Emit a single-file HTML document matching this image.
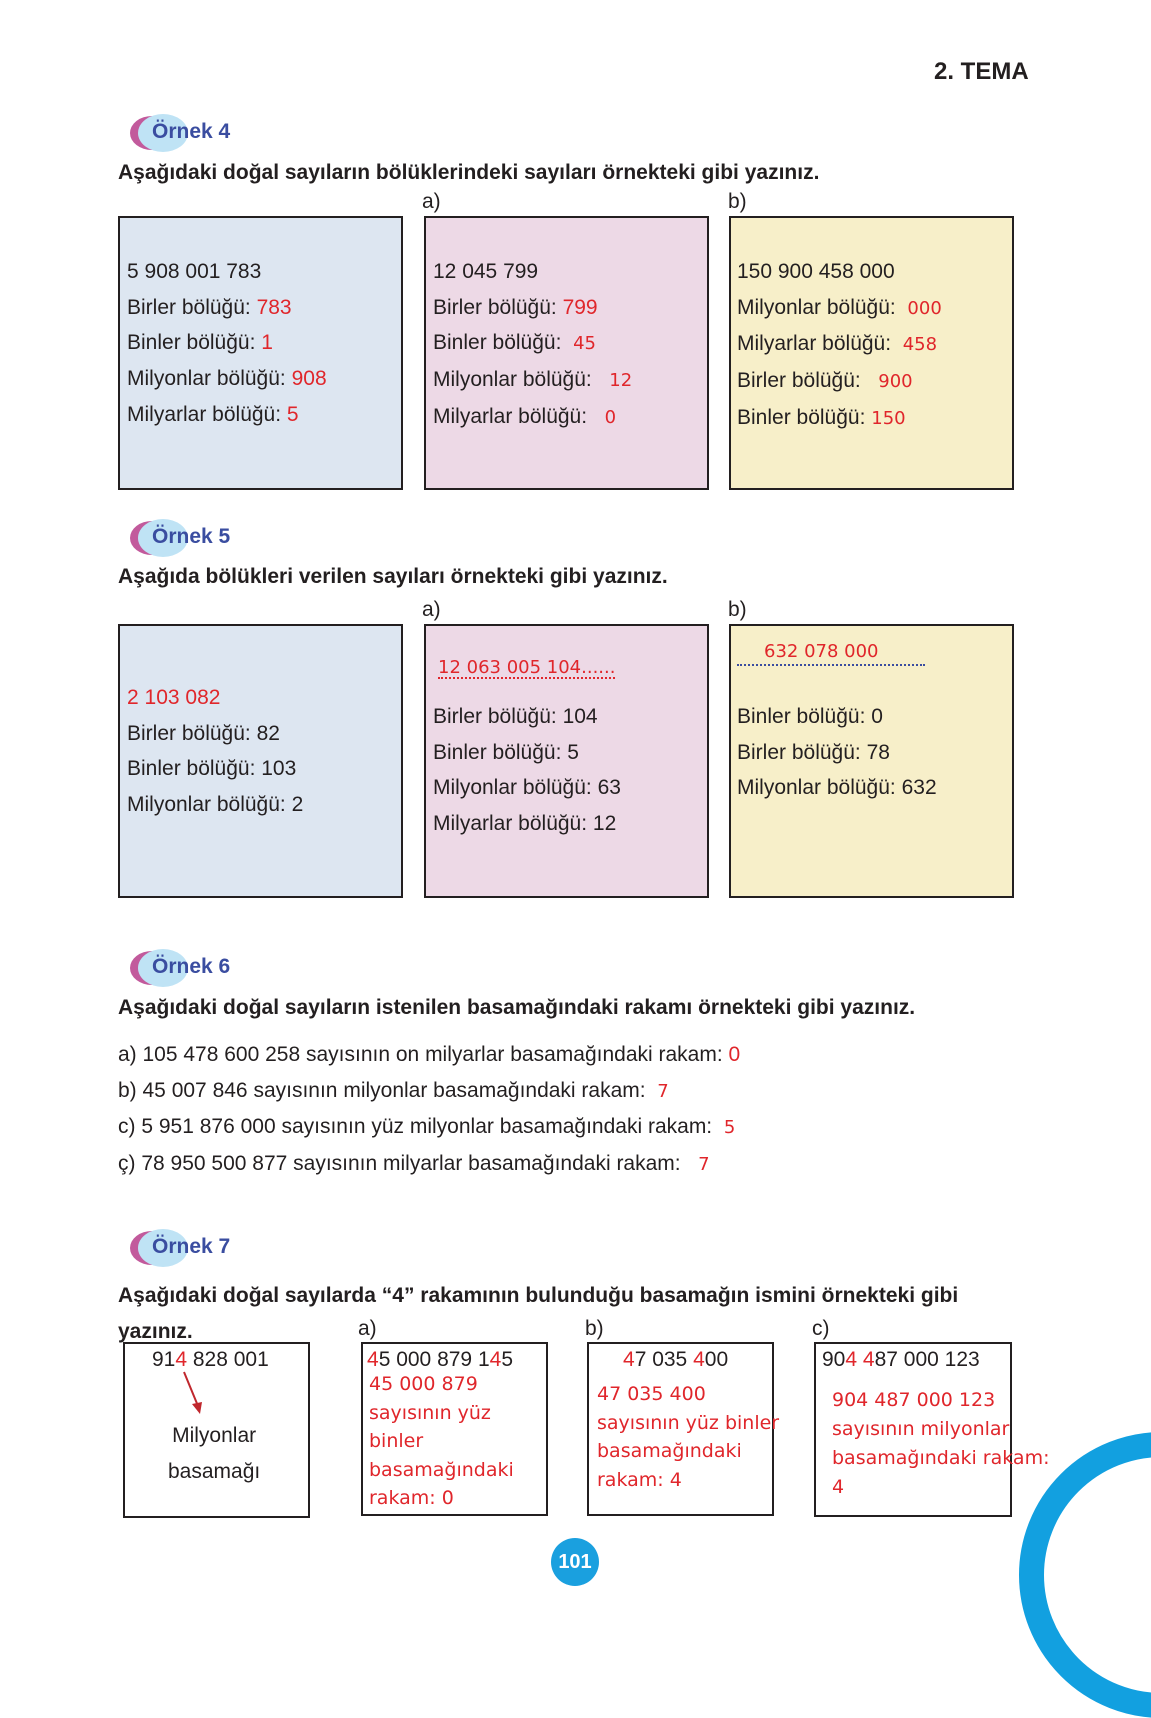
<!DOCTYPE html>
<html><head><meta charset="utf-8"><style>
body{margin:0;width:1151px;height:1624px;background:#fff;position:relative;overflow:hidden;font-family:"Liberation Sans",Arial,sans-serif;color:#231f20}
.a{position:absolute;white-space:nowrap;line-height:1}
.t{font-size:21px}
.b{font-weight:bold}
.r{color:#e0262b}
.rc{color:#e0262b;font-family:"DejaVu Sans","Liberation Sans",sans-serif;font-size:18px}
.box{position:absolute;border:2px solid #231f20;box-sizing:border-box}
.hd{position:absolute;width:120px;height:40px}
.hd .p{position:absolute;left:0;top:4px;width:44px;height:34px;border-radius:50%;background:#c25a9c}
.hd .q{position:absolute;left:8px;top:2px;width:50px;height:38px;border-radius:50%;background:#bfe3f5}
.hd span{position:absolute;left:22px;top:8px;font-size:21px;font-weight:bold;color:#3a4da0}
</style></head><body>
<div class="a b" style="left:934px;top:60px;font-size:24px">2. TEMA</div>

<div class="hd" style="left:130px;top:112px"><div class="p"></div><div class="q"></div><span>Örnek 4</span></div>
<div class="a t b" style="left:118px;top:162px">Aşağıdaki doğal sayıların bölüklerindeki sayıları örnekteki gibi yazınız.</div>
<div class="a t" style="left:422px;top:191px">a)</div><div class="a t" style="left:728px;top:191px">b)</div>
<div class="box" style="left:118px;top:216px;width:285px;height:274px;background:#dde6f1"></div>
<div class="box" style="left:424px;top:216px;width:285px;height:274px;background:#edd9e6"></div>
<div class="box" style="left:729px;top:216px;width:285px;height:274px;background:#f7efc9"></div>
<div class="a t" style="left:127px;top:254px;line-height:35.7px">5 908 001 783<br>Birler bölüğü: <span class="r">783</span><br>Binler bölüğü: <span class="r">1</span><br>Milyonlar bölüğü: <span class="r">908</span><br>Milyarlar bölüğü: <span class="r">5</span></div>
<div class="a t" style="left:433px;top:254px;line-height:35.7px">12 045 799<br>Birler bölüğü: <span class="r">799</span><br>Binler bölüğü: &nbsp;<span class="rc">45</span><br>Milyonlar bölüğü: &nbsp;&nbsp;<span class="rc">12</span><br>Milyarlar bölüğü: &nbsp;&nbsp;<span class="rc">0</span></div>
<div class="a t" style="left:737px;top:254px;line-height:35.7px">150 900 458 000<br>Milyonlar bölüğü: &nbsp;<span class="rc">000</span><br>Milyarlar bölüğü: &nbsp;<span class="rc">458</span><br>Birler bölüğü: &nbsp;&nbsp;<span class="rc">900</span><br>Binler bölüğü: <span class="rc">150</span></div>

<div class="hd" style="left:130px;top:517px"><div class="p"></div><div class="q"></div><span>Örnek 5</span></div>
<div class="a t b" style="left:118px;top:566px">Aşağıda bölükleri verilen sayıları örnekteki gibi yazınız.</div>
<div class="a t" style="left:422px;top:599px">a)</div><div class="a t" style="left:728px;top:599px">b)</div>
<div class="box" style="left:118px;top:624px;width:285px;height:274px;background:#dde6f1"></div>
<div class="box" style="left:424px;top:624px;width:285px;height:274px;background:#edd9e6"></div>
<div class="box" style="left:729px;top:624px;width:285px;height:274px;background:#f7efc9"></div>
<div class="a t" style="left:127px;top:680px;line-height:35.7px"><span class="r">2 103 082</span><br>Birler bölüğü: 82<br>Binler bölüğü: 103<br>Milyonlar bölüğü: 2</div>
<div class="a rc" style="left:438px;top:659px;border-bottom:2px dotted #e0262b">12 063 005 104......</div>
<div class="a t" style="left:433px;top:699px;line-height:35.7px">Birler bölüğü: 104<br>Binler bölüğü: 5<br>Milyonlar bölüğü: 63<br>Milyarlar bölüğü: 12</div>
<div class="a rc" style="left:764px;top:643px">632 078 000</div>
<div class="a" style="left:737px;top:664px;width:188px;border-bottom:2px dotted #3a4da0"></div>
<div class="a t" style="left:737px;top:699px;line-height:35.7px">Binler bölüğü: 0<br>Birler bölüğü: 78<br>Milyonlar bölüğü: 632</div>

<div class="hd" style="left:130px;top:947px"><div class="p"></div><div class="q"></div><span>Örnek 6</span></div>
<div class="a t b" style="left:118px;top:997px">Aşağıdaki doğal sayıların istenilen basamağındaki rakamı örnekteki gibi yazınız.</div>
<div class="a t" style="left:118px;top:1037px;line-height:35.5px">a) 105 478 600 258 sayısının on milyarlar basamağındaki rakam: <span class="r">0</span><br>b) 45 007 846 sayısının milyonlar basamağındaki rakam: &nbsp;<span class="rc">7</span><br>c) 5 951 876 000 sayısının yüz milyonlar basamağındaki rakam: &nbsp;<span class="rc">5</span><br>ç) 78 950 500 877 sayısının milyarlar basamağındaki rakam: &nbsp;&nbsp;<span class="rc">7</span></div>

<div class="hd" style="left:130px;top:1227px"><div class="p"></div><div class="q"></div><span>Örnek 7</span></div>
<div class="a t b" style="left:118px;top:1278px;line-height:36px">Aşağıdaki doğal sayılarda “4” rakamının bulunduğu basamağın ismini örnekteki gibi<br>yazınız.</div>
<div class="a t" style="left:358px;top:1318px">a)</div><div class="a t" style="left:585px;top:1318px">b)</div><div class="a t" style="left:812px;top:1318px">c)</div>
<div class="box" style="left:123px;top:1342px;width:187px;height:176px"></div>
<div class="box" style="left:361px;top:1342px;width:187px;height:174px"></div>
<div class="box" style="left:587px;top:1342px;width:187px;height:174px"></div>
<div class="box" style="left:814px;top:1342px;width:198px;height:175px"></div>
<div class="a t" style="left:152px;top:1349px">91<span class="r">4</span> 828 001</div>
<svg class="a" style="left:180px;top:1370px" width="30" height="50"><line x1="4" y1="2" x2="18" y2="36" stroke="#c0272d" stroke-width="2"/><polygon points="12,34 22,32 20,44" fill="#c0272d"/></svg>
<div class="a t" style="left:168px;top:1418px;line-height:36px;text-align:center">Milyonlar<br>basamağı</div>
<div class="a t" style="left:367px;top:1349px"><span class="r">4</span>5 000 879 1<span class="r">4</span>5</div>
<div class="a rc" style="left:369px;top:1370px;line-height:28.5px;font-size:19px">45 000 879<br>sayısının yüz<br>binler<br>basamağındaki<br>rakam: 0</div>
<div class="a t" style="left:623px;top:1349px"><span class="r">4</span>7 035 <span class="r">4</span>00</div>
<div class="a rc" style="left:597px;top:1380px;line-height:28.5px;font-size:19px">47 035 400<br>sayısının yüz binler<br>basamağındaki<br>rakam: 4</div>
<div class="a t" style="left:822px;top:1349px">90<span class="r">4</span> <span class="r">4</span>87 000 123</div>
<div class="a rc" style="left:832px;top:1386px;line-height:29px;font-size:19px">904 487 000 123<br>sayısının milyonlar<br>basamağındaki rakam:<br>4</div>

<div class="a" style="left:551px;top:1538px;width:48px;height:48px;border-radius:50%;background:#1aa0df;color:#fff;font-weight:bold;font-size:20px;line-height:48px;text-align:center">101</div>
<div class="a" style="left:1019px;top:1432px;width:286px;height:286px;border-radius:50%;border:25px solid #12a0e0;box-sizing:border-box"></div>
</body></html>
